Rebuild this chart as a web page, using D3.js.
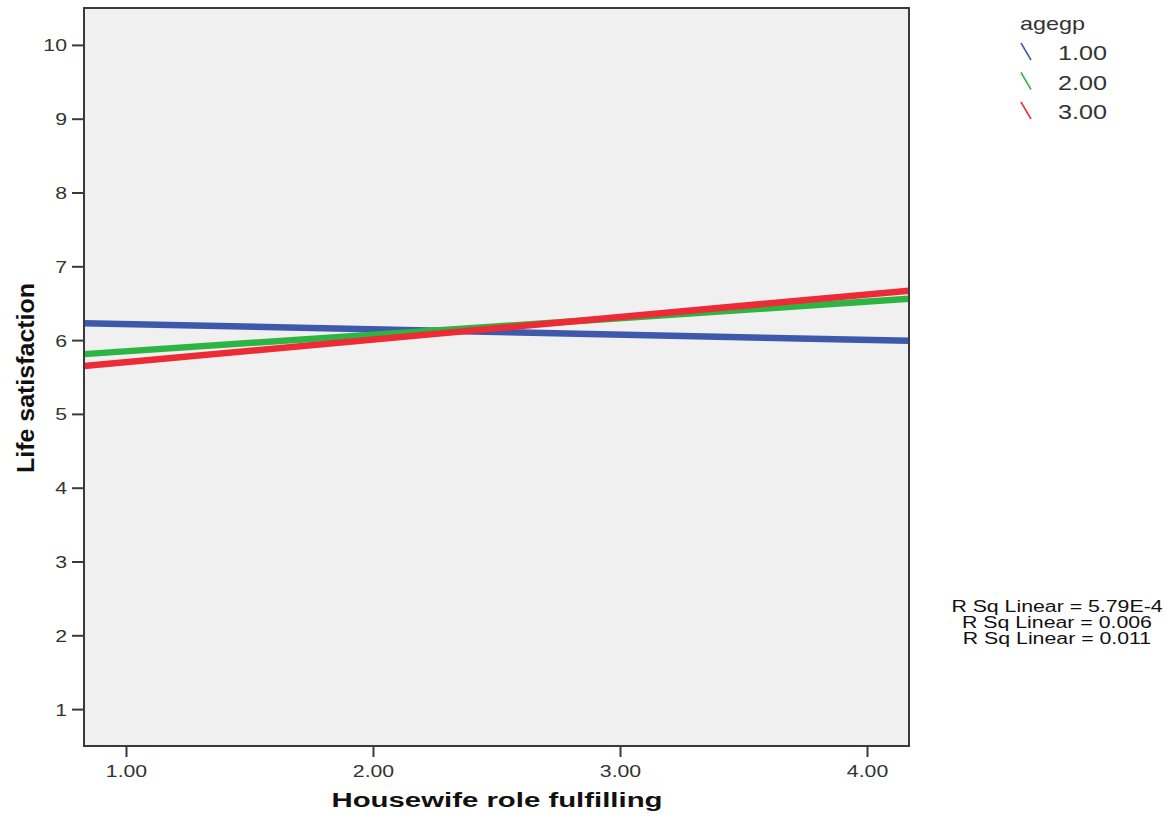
<!DOCTYPE html>
<html><head><meta charset="utf-8">
<script src="https://cdn.jsdelivr.net/npm/d3@7"></script>
<style>body{margin:0;background:#fff;}svg{display:block;}</style>
</head><body>
<svg id="c" width="1176" height="821"></svg>
<script>
const groups = ["1.00", "2.00", "3.00"];
const colors = ["#3e58ac", "#2db543", "#ed2b36"];
const xEnds = [0.83, 4.17];
const yStart = [6.23, 5.81, 5.65];
const yEnd = [5.99, 6.56, 6.67];
const xTicks = [1, 2, 3, 4];
const yTicks = [1, 2, 3, 4, 5, 6, 7, 8, 9, 10];
const rsq = ["R Sq Linear = 5.79E-4", "R Sq Linear = 0.006", "R Sq Linear = 0.011"];

const svg = d3.select("#c");
const L = 84, R = 909, T = 8, B = 746;
const x = d3.scaleLinear().domain([0.83, 4.17]).range([L, R]);
const y = d3.scaleLinear().domain([0.5, 10.5]).range([B, T]);
const fam = "Arial, 'Liberation Sans', sans-serif";

function stretch(sel, k) {
  sel.each(function() {
    const len = this.getComputedTextLength();
    d3.select(this).attr("textLength", len * k).attr("lengthAdjust", "spacingAndGlyphs");
  });
}

svg.append("rect").attr("x", L).attr("y", T).attr("width", R - L).attr("height", B - T)
  .attr("fill", "#f0f0f0");

const line = d3.line().x(d => x(d[0])).y(d => y(d[1]));
groups.forEach((g, i) => {
  svg.append("path").datum([[xEnds[0], yStart[i]], [xEnds[1], yEnd[i]]])
    .attr("d", line).attr("stroke", colors[i]).attr("stroke-width", 6.5).attr("fill", "none");
});

svg.append("rect").attr("x", L).attr("y", T).attr("width", R - L).attr("height", B - T)
  .attr("fill", "none").attr("stroke", "#3a3a3a").attr("stroke-width", 2);

const yAxis = svg.append("g").attr("transform", `translate(${L},0)`)
  .call(d3.axisLeft(y).tickValues(yTicks).tickSize(12).tickSizeOuter(0).tickFormat(d3.format("d")));
const xAxis = svg.append("g").attr("transform", `translate(0,${B})`)
  .call(d3.axisBottom(x).tickValues(xTicks).tickSize(11).tickSizeOuter(0).tickFormat(d3.format(".2f")));
[yAxis, xAxis].forEach(a => {
  a.select(".domain").remove();
  a.selectAll(".tick line").attr("stroke", "#3a3a3a").attr("stroke-width", 2);
  a.selectAll(".tick text").attr("fill", "#333").style("font-family", fam).style("font-size", "17px");
});
yAxis.selectAll(".tick text").attr("x", -17).attr("dy", "0.35em");
xAxis.selectAll(".tick text").attr("y", 31).attr("dy", 0);
stretch(yAxis.selectAll(".tick text"), 1.25);
stretch(xAxis.selectAll(".tick text"), 1.25);

const yt = svg.append("text").attr("transform", `translate(34,378) rotate(-90)`).attr("text-anchor", "middle")
  .style("font-family", fam).style("font-size", "24px").style("font-weight", "bold").attr("fill", "#111")
  .text("Life satisfaction");
yt.attr("textLength", 190).attr("lengthAdjust", "spacingAndGlyphs");
const xt = svg.append("text").attr("x", 497).attr("y", 807).attr("text-anchor", "middle")
  .style("font-family", fam).style("font-size", "20px").style("font-weight", "bold").attr("fill", "#111")
  .text("Housewife role fulfilling");
xt.attr("textLength", 331).attr("lengthAdjust", "spacingAndGlyphs");

// legend
const lt = svg.append("text").attr("x", 1020).attr("y", 30).style("font-family", fam).style("font-size", "19px")
  .attr("fill", "#333").text("agegp");
lt.attr("textLength", 65).attr("lengthAdjust", "spacingAndGlyphs");
groups.forEach((g, i) => {
  const top = 43 + i * 29.5;
  svg.append("line").attr("x1", 1021).attr("y1", top).attr("x2", 1031).attr("y2", top + 17)
    .attr("stroke", colors[i]).attr("stroke-width", 1.5);
  const t = svg.append("text").attr("x", 1058).attr("y", top + 17).style("font-family", fam).style("font-size", "21px")
    .attr("fill", "#333").text(g);
  t.attr("textLength", 49).attr("lengthAdjust", "spacingAndGlyphs");
});

rsq.forEach((t, i) => {
  const s = svg.append("text").attr("x", 1057).attr("y", 612 + i * 16).attr("text-anchor", "middle")
    .style("font-family", fam).style("font-size", "16px").attr("fill", "#111").text(t);
  stretch(s, 1.33);
});
</script>
</body></html>
